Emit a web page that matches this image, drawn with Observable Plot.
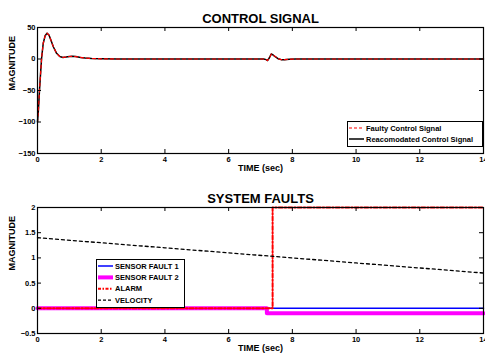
<!DOCTYPE html>
<html>
<head>
<meta charset="utf-8">
<script src="https://cdn.jsdelivr.net/npm/d3@7"></script>
<script src="https://cdn.jsdelivr.net/npm/@observablehq/plot@0.6"></script>
<style>
  html, body { margin: 0; padding: 0; background: white; }
  #wrap { position: relative; width: 485px; height: 360px; overflow: hidden; background: white; }
  #top, #bottom { position: absolute; left: 0; width: 485px; height: 180px; }
  #top { top: 0; }
  #bottom { top: 180px; }
  .legend { position: absolute; }
  .legend text { font-family: "Liberation Sans", Arial, sans-serif; font-weight: bold; font-size: 7.5px; }
</style>
</head>
<body>
<div id="wrap">
  <div id="top"></div>
  <div id="bottom"></div>
</div>
<script>
// ---------- data ----------
const xTicks = [0, 2, 4, 6, 8, 10, 12, 14];
const topYTicks = [-150, -100, -50, 0, 50];
const botYTicks = [-0.5, 0, 0.5, 1, 1.5, 2];

// control signal (time in sec)
const ctrlTime =      [0,    0.03, 0.06, 0.1, 0.13, 0.18, 0.24, 0.3, 0.36, 0.42, 0.5, 0.6, 0.7, 0.8, 0.9, 1.0, 1.1, 1.2, 1.35, 1.5, 1.7, 2.0, 2.5, 7.1, 7.18, 7.22, 7.28, 7.34, 7.38, 7.45, 7.55, 7.65, 7.75, 7.9, 8.1, 14];
const reaccomSignal = [-100, -80,  -52,  -20, 2,    25,   37,   41,  38,   30,   19,  9,   4,   2.5, 3,   4,   4.2, 3.8, 2.5,  1.5, 0.8, 0.3, 0,   0,   -1,   -2.5, 2,    8,    7,    4,    0.5,  -1,   -1,   -0.3, 0,   0];
const faultySignal =  [-100, -80,  -52,  -20, 2,    25,   37,   41,  38,   30,   19,  9,   4,   2.5, 3,   4,   4.2, 3.8, 2.5,  1.5, 0.8, 0.3, 0,   0,   -1,   -2.5, 2,    8,    7.5,  4.5,  0.5,  -1,   -1,   -0.3, 0,   0];

// system faults
const sensor1Time = [0, 14];
const sensor1 =     [0, 0];
const sensor2Time = [0, 7.2, 7.2, 14];
const sensor2 =     [0, 0, -0.1, -0.1];
const alarmTime =   [0, 7.38, 7.38, 14];
const alarm =       [0, 0, 2, 2];
const velTime =     [0, 2, 4, 6, 8, 10, 12, 14];
const velocity =    [1.4, 1.3, 1.2, 1.1, 1.0, 0.9, 0.8, 0.7];

const zip = (t, v) => t.map((x, i) => ({x, y: v[i]}));

const FONT = '"Liberation Sans", Arial, Helvetica, sans-serif';
const W = 485, H = 180, MT = 27, MB = 27, ML = 37, MR = 2;
const FH = H - MT - MB; // frame height
const FW = W - ML - MR;

function frameMarks(yTicks, title, fmt) {
  return [
    Plot.frame({stroke: "black", strokeWidth: 1.2}),
    Plot.axisX(xTicks, {tickSize: 0, tickPadding: 3, label: null}),
    Plot.axisY(yTicks, {tickSize: 0, tickPadding: 2, label: null, tickFormat: fmt}),
    Plot.tickX(xTicks, {x: d => d, insetTop: FH - 4, stroke: "black"}),
    Plot.tickX(xTicks, {x: d => d, insetBottom: FH - 4, stroke: "black"}),
    Plot.tickY(yTicks, {y: d => d, insetRight: FW - 4, stroke: "black"}),
    Plot.tickY(yTicks, {y: d => d, insetLeft: FW - 4, stroke: "black"}),
    Plot.text([title], {frameAnchor: "top", dy: -14, fontSize: 13, fontWeight: "bold"}),
    Plot.text(["TIME (sec)"], {frameAnchor: "bottom", dy: 17, fontSize: 9, fontWeight: "bold"}),
    Plot.text(["MAGNITUDE"], {frameAnchor: "left", dx: -25, rotate: -90, fontSize: 9, fontWeight: "bold"})
  ];
}

const style = {fontFamily: FONT, fontSize: "7.5px", fontWeight: "bold", background: "white", color: "black"};

const topPlot = Plot.plot({
  width: W, height: H, marginTop: MT, marginBottom: MB, marginLeft: ML, marginRight: MR,
  style,
  x: {domain: [0, 14]},
  y: {domain: [-150, 50]},
  marks: [
    Plot.line(zip(ctrlTime, reaccomSignal), {x: "x", y: "y", stroke: "black", strokeWidth: 1.5}),
    Plot.line(zip(ctrlTime, faultySignal), {x: "x", y: "y", stroke: "#ff0000", strokeWidth: 1.2, strokeDasharray: "3,3"}),
    ...frameMarks(topYTicks, "CONTROL SIGNAL", d3.format("")),
  ]
});
document.getElementById("top").appendChild(topPlot);

const botPlot = Plot.plot({
  width: W, height: H, marginTop: MT, marginBottom: MB, marginLeft: ML, marginRight: MR,
  style,
  x: {domain: [0, 14]},
  y: {domain: [-0.5, 2]},
  marks: [
    Plot.line(zip(sensor1Time, sensor1), {x: "x", y: "y", stroke: "#0000ff", strokeWidth: 1.5}),
    Plot.line(zip(sensor2Time, sensor2), {x: "x", y: "y", stroke: "#ff00ff", strokeWidth: 4}),
    Plot.line(zip(alarmTime, alarm), {x: "x", y: "y", stroke: "#ff0000", strokeWidth: 2, strokeDasharray: "4,2,1.5,2"}),
    Plot.line(zip(velTime, velocity), {x: "x", y: "y", stroke: "black", strokeWidth: 1.3, strokeDasharray: "3,3"}),
    ...frameMarks(botYTicks, "SYSTEM FAULTS", d3.format("")),
  ]
});
document.getElementById("bottom").appendChild(botPlot);

// ---------- legends ----------
const topLegend = [
  {label: "Faulty Control Signal", stroke: "#ff0000", width: 1.2, dash: "3,2"},
  {label: "Reacomodated Control Signal", stroke: "black", width: 1.5, dash: null}
];
const botLegend = [
  {label: "SENSOR FAULT 1", stroke: "#0000ff", width: 1.5, dash: null},
  {label: "SENSOR FAULT 2", stroke: "#ff00ff", width: 4, dash: null},
  {label: "ALARM", stroke: "#ff0000", width: 2, dash: "3,1.5,1.5,1.5"},
  {label: "VELOCITY", stroke: "black", width: 1.3, dash: "3,2"}
];

function legend(items, left, top, w, h, rowH, firstY) {
  const svg = d3.select("#wrap").append("svg")
    .attr("class", "legend")
    .style("left", left + "px").style("top", top + "px")
    .attr("width", w + 1).attr("height", h + 1);
  svg.append("rect").attr("x", 0.5).attr("y", 0.5).attr("width", w).attr("height", h)
    .attr("fill", "white").attr("stroke", "black").attr("stroke-width", 1);
  items.forEach((d, i) => {
    const y = firstY + i * rowH;
    svg.append("line").attr("x1", 2).attr("x2", 17).attr("y1", y).attr("y2", y)
      .attr("stroke", d.stroke).attr("stroke-width", d.width)
      .attr("stroke-dasharray", d.dash);
    svg.append("text").attr("x", 19).attr("y", y).attr("dy", "0.35em").text(d.label);
  });
}
legend(topLegend, 347, 121, 135, 25, 11, 7);
legend(botLegend, 96, 259, 88, 48, 11.4, 7);
</script>
</body>
</html>
